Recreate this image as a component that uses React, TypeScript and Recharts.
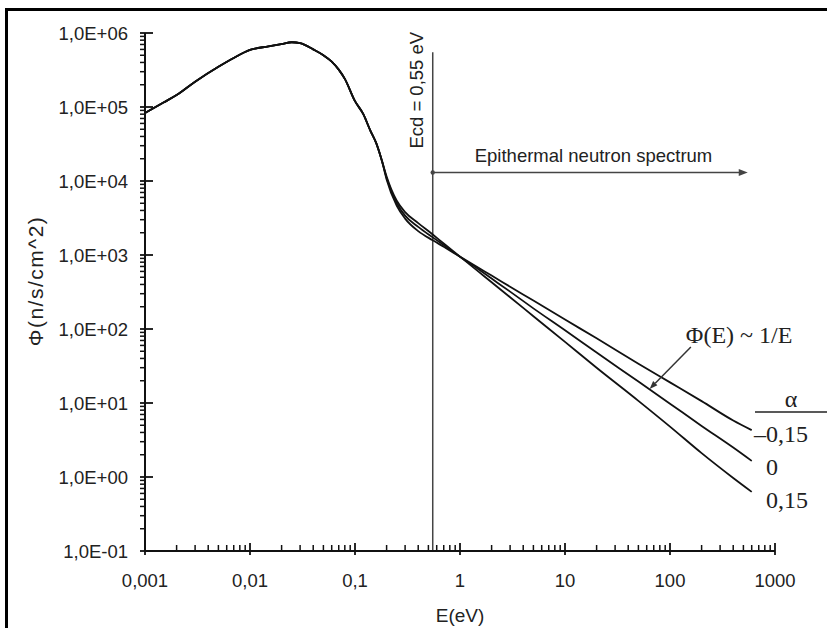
import React from 'react';
import { LineChart, Line, XAxis, YAxis, ReferenceLine } from 'recharts';

// energy grid (eV) and flux
const energy = [
  0.001, 0.0015, 0.002, 0.003, 0.005, 0.007, 0.01, 0.015, 0.02, 0.025, 0.03, 0.04, 0.05, 0.06, 0.07, 0.08,
  0.1, 0.12, 0.14, 0.16, 0.18, 0.2, 0.25, 0.3, 0.4, 0.55, 0.7, 1, 1.5, 2, 3, 5, 10, 20, 50, 100, 200, 400, 600,
];
const fluxAlphaMinus = [
  8.3e4, 1.15e5, 1.45e5, 2.2e5, 3.5e5, 4.6e5, 5.9e5, 6.6e5, 7.1e5, 7.5e5, 7.3e5, 6.0e5, 5.0e5, 4.1e5, 3.2e5, 2.4e5,
  1.2e5, 8.0e4, 4.8e4, 3.2e4, 1.9e4, 1.05e4, 4.6e3, 3.1e3, 2.1e3, 1.58e3, 1.29e3, 950, 672, 527, 373, 242, 134, 75, 34, 19, 10.6, 5.8, 4.3,
];
const fluxAlphaZero = [
  8.3e4, 1.15e5, 1.45e5, 2.2e5, 3.5e5, 4.6e5, 5.9e5, 6.6e5, 7.1e5, 7.5e5, 7.3e5, 6.0e5, 5.0e5, 4.1e5, 3.2e5, 2.4e5,
  1.2e5, 8.0e4, 4.8e4, 3.2e4, 1.9e4, 1.1e4, 5.0e3, 3.4e3, 2.4e3, 1.73e3, 1.36e3, 950, 640, 480, 320, 190, 96, 48, 19.5, 9.8, 4.9, 2.5, 1.65,
];
const fluxAlphaPlus = [
  8.3e4, 1.15e5, 1.45e5, 2.2e5, 3.5e5, 4.6e5, 5.9e5, 6.6e5, 7.1e5, 7.5e5, 7.3e5, 6.0e5, 5.0e5, 4.1e5, 3.2e5, 2.4e5,
  1.2e5, 8.0e4, 4.8e4, 3.2e4, 1.9e4, 1.15e4, 5.4e3, 3.8e3, 2.7e3, 1.89e3, 1.43e3, 950, 596, 428, 269, 149, 67, 30, 10.7, 4.8, 2.1, 0.97, 0.63,
];

const xMajorTicks = [0.001, 0.01, 0.1, 1, 10, 100, 1000];
const xTickLabels = ['0,001', '0,01', '0,1', '1', '10', '100', '1000'];
const yMajorTicks = [0.1, 1, 10, 100, 1000, 1e4, 1e5, 1e6];
const yTickLabels = ['1,0E-01', '1,0E+00', '1,0E+01', '1,0E+02', '1,0E+03', '1,0E+04', '1,0E+05', '1,0E+06'];
const alphaLabels = ['\u20130,15', '0', '0,15'];

// annotation anchors in data units
const cadmiumCutoff = 0.55;
const cutoffTop = 5.5e5;
const epithermalLevel = 1.3e4;
const epithermalEnd = 550;
const slopeTip = { x: 64, y: 15.5 };
const slopeTail = { x: 158, y: 57 };

const data = energy.map((e, i) => ({
  e,
  minus: fluxAlphaMinus[i],
  zero: fluxAlphaZero[i],
  plus: fluxAlphaPlus[i],
}));

const minorOf = (majors: number[]) =>
  majors.slice(0, -1).flatMap((m) => [2, 3, 4, 5, 6, 7, 8, 9].map((k) => Number((k * m).toPrecision(3))));

const xTicks = [...xMajorTicks, ...minorOf(xMajorTicks)];
const yTicks = [...yMajorTicks, ...minorOf(yMajorTicks)];

const SANS = 'Liberation Sans, Arial, sans-serif';
const SERIF = 'Liberation Serif, Times New Roman, serif';
const INK = '#111';
const TEXT = '#222';

const YTick = (props: any) => {
  const { x, y, payload } = props;
  const i = yMajorTicks.indexOf(payload.value);
  if (i < 0) {
    return <line x1={x - 5} x2={x} y1={y} y2={y} stroke={INK} strokeWidth={1.5} />;
  }
  return (
    <g>
      <line x1={x - 5} x2={x + 8} y1={y} y2={y} stroke={INK} strokeWidth={1.8} />
      <text x={x - 17} y={y} dy={6.5} textAnchor="end" fontSize={18.5} fontFamily={SANS} fill={TEXT}>
        {yTickLabels[i]}
      </text>
    </g>
  );
};

const XTick = (props: any) => {
  const { x, y, payload } = props;
  const i = xMajorTicks.indexOf(payload.value);
  if (i < 0) {
    return <line x1={x} x2={x} y1={y} y2={y - 6} stroke={INK} strokeWidth={1.5} />;
  }
  return (
    <g>
      <line x1={x} x2={x} y1={y + 4} y2={y - 8} stroke={INK} strokeWidth={1.8} />
      <text x={x} y={y + 36} textAnchor="middle" fontSize={18.5} fontFamily={SANS} fill={TEXT}>
        {xTickLabels[i]}
      </text>
    </g>
  );
};

const CutoffLine = (p: any) => {
  const top = Math.min(p.y1, p.y2);
  return (
    <g>
      <line x1={p.x1} y1={p.y1} x2={p.x2} y2={p.y2} stroke="#444" strokeWidth={1.5} />
      <text
        transform={`translate(${p.x1 - 10}, ${top + 38}) rotate(-90)`}
        textAnchor="middle"
        fontSize={18.5}
        fontFamily={SANS}
        fill={TEXT}
      >
        Ecd = 0,55 eV
      </text>
    </g>
  );
};

const EpithermalArrow = (p: any) => (
  <g>
    <line x1={p.x1} y1={p.y1} x2={p.x2 - 6} y2={p.y2} stroke="#444" strokeWidth={1.5} />
    <circle cx={p.x1} cy={p.y1} r={2.2} fill="#444" />
    <polygon points={`${p.x2},${p.y2} ${p.x2 - 9},${p.y2 - 3.5} ${p.x2 - 9},${p.y2 + 3.5}`} fill="#444" />
    <text x={p.x1 + 42} y={p.y1 - 11} fontSize={18.5} fontFamily={SANS} fill={TEXT}>
      Epithermal neutron spectrum
    </text>
  </g>
);

const SlopeArrow = (p: any) => {
  const dx = p.x2 - p.x1;
  const dy = p.y2 - p.y1;
  const len = Math.hypot(dx, dy);
  const ux = dx / len;
  const uy = dy / len;
  const bx = p.x1 + ux * 8;
  const by = p.y1 + uy * 8;
  return (
    <g>
      <line x1={bx} y1={by} x2={p.x2} y2={p.y2} stroke="#333" strokeWidth={1.5} />
      <polygon
        points={`${p.x1},${p.y1} ${bx - uy * 3},${by + ux * 3} ${bx + uy * 3},${by - ux * 3}`}
        fill="#333"
      />
      <text x={p.x2 - 5} y={p.y2 - 4} fontSize={24} fontFamily={SERIF} fill={TEXT}>
        {'\u03A6(E) ~ 1/E'}
      </text>
    </g>
  );
};

export default function App() {
  return (
    <div style={{ position: 'absolute', left: 0, top: 0, width: 827, height: 628, background: '#fff' }}>
      <LineChart width={827} height={628} data={data} margin={{ top: 33, right: 52, bottom: 0, left: 0 }}>
        <XAxis
          dataKey="e"
          type="number"
          scale="log"
          domain={[0.001, 1000]}
          ticks={xTicks}
          interval={0}
          height={77}
          tickSize={0}
          tickMargin={0}
          tickLine={false}
          tick={XTick}
          axisLine={{ stroke: INK, strokeWidth: 2 }}
          allowDataOverflow
        />
        <YAxis
          type="number"
          scale="log"
          domain={[0.1, 1e6]}
          ticks={yTicks}
          interval={0}
          width={145}
          tickSize={0}
          tickMargin={0}
          tickLine={false}
          tick={YTick}
          axisLine={{ stroke: INK, strokeWidth: 2 }}
          allowDataOverflow
        />
        <ReferenceLine
          segment={[{ x: cadmiumCutoff, y: 0.1 }, { x: cadmiumCutoff, y: cutoffTop }]}
          ifOverflow="visible"
          shape={CutoffLine}
        />
        <ReferenceLine
          segment={[{ x: cadmiumCutoff, y: epithermalLevel }, { x: epithermalEnd, y: epithermalLevel }]}
          ifOverflow="visible"
          shape={EpithermalArrow}
        />
        <Line dataKey="minus" type="monotone" stroke={INK} strokeWidth={1.8} dot={false} isAnimationActive={false} />
        <Line dataKey="zero" type="monotone" stroke={INK} strokeWidth={1.8} dot={false} isAnimationActive={false} />
        <Line dataKey="plus" type="monotone" stroke={INK} strokeWidth={1.8} dot={false} isAnimationActive={false} />
        <ReferenceLine
          segment={[slopeTip, slopeTail]}
          ifOverflow="visible"
          shape={SlopeArrow}
        />
      </LineChart>
      <svg
        width={827}
        height={628}
        style={{ position: 'absolute', left: 0, top: 0, pointerEvents: 'none' }}
      >
        <line x1={6.5} y1={9.5} x2={827} y2={9.5} stroke="#000" strokeWidth={3} />
        <line x1={6.5} y1={8} x2={6.5} y2={628} stroke="#000" strokeWidth={3} />
        <text
          transform="translate(36, 281) rotate(-90)"
          textAnchor="middle"
          dy={7}
          fontSize={21}
          letterSpacing={1.5}
          fontFamily={SANS}
          fill={TEXT}
        >
          {'\u03A6(n/s/cm^2)'}
        </text>
        <text x={460} y={622} textAnchor="middle" fontSize={19} fontFamily={SANS} fill={TEXT}>
          E(eV)
        </text>
        <text x={791} y={407} textAnchor="middle" fontSize={24} fontFamily={SERIF} fill={TEXT}>
          {'\u03B1'}
        </text>
        <line x1={755} y1={412} x2={827} y2={412} stroke={TEXT} strokeWidth={1.5} />
        <text x={754} y={442} fontSize={24} fontFamily={SERIF} fill={TEXT}>{alphaLabels[0]}</text>
        <text x={766} y={475} fontSize={24} fontFamily={SERIF} fill={TEXT}>{alphaLabels[1]}</text>
        <text x={766} y={508} fontSize={24} fontFamily={SERIF} fill={TEXT}>{alphaLabels[2]}</text>
      </svg>
    </div>
  );
}
